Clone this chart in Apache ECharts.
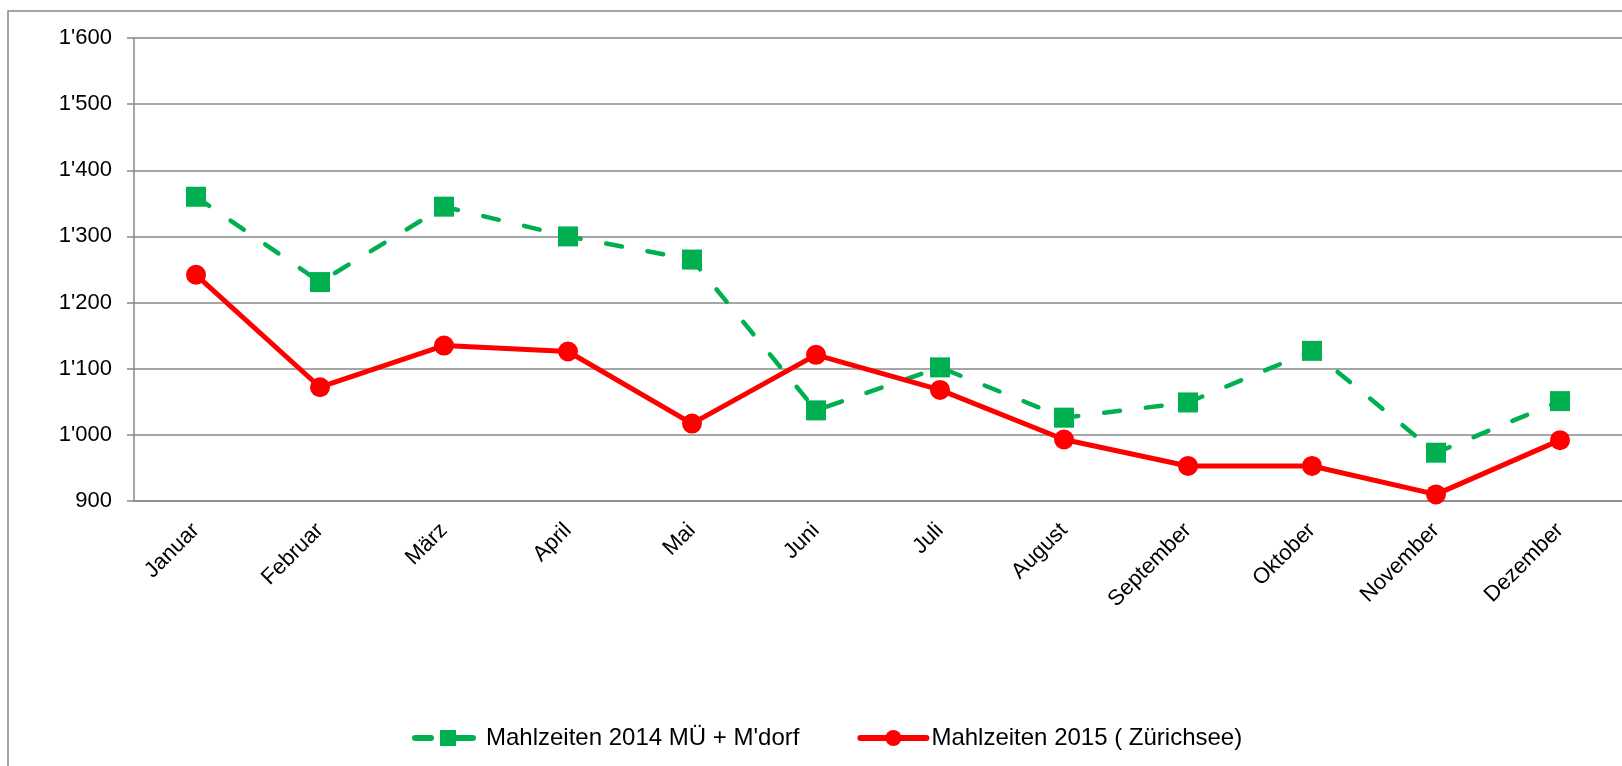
<!DOCTYPE html>
<html style="height: 100%">
<head>
    <meta charset="utf-8">
    <style>
        html, body { margin: 0; padding: 0; background: #fff; }
        #container { width: 1622px; height: 766px; }
    </style>
</head>
<body>
<div id="container"></div>
<script src="https://cdn.jsdelivr.net/npm/echarts@6/dist/echarts.min.js"></script>
<script type="text/javascript">
    // Monate
    var months = ['Januar', 'Februar', 'März', 'April', 'Mai', 'Juni', 'Juli', 'August',
        'September', 'Oktober', 'November', 'Dezember'];
    // Mahlzeiten 2014 MÜ + M'dorf
    var meals2014 = [1360, 1231, 1345, 1300, 1265, 1037, 1102, 1026, 1049, 1127, 973, 1051];
    // Mahlzeiten 2015 ( Zürichsee)
    var meals2015 = [1242, 1072, 1135, 1126, 1017, 1121, 1068, 993, 953, 953, 910, 992];
    var seriesNames = ["Mahlzeiten 2014 MÜ + M'dorf", 'Mahlzeiten 2015 ( Zürichsee)'];
    var yMin = 900, yMax = 1600, yStep = 100;

    function swissNumber(v) {
        if (v < 1000) return String(v);
        var rest = String(v % 1000);
        while (rest.length < 3) rest = '0' + rest;
        return Math.floor(v / 1000) + "'" + rest;
    }

    var gray = '#888888';
    var myChart = echarts.init(document.getElementById('container'));
    var option = {
        animation: false,
        textStyle: { fontFamily: 'Liberation Sans, Arial, sans-serif' },
        graphic: [{
            type: 'rect',
            shape: { x: 8, y: 11, width: 1700, height: 800 },
            style: { fill: 'none', stroke: gray, lineWidth: 1.5 },
            silent: true
        }],
        grid: { left: 134, top: 38, width: 1505, height: 463 },
        legend: {
            data: seriesNames,
            left: 407,
            top: 721,
            itemWidth: 66,
            itemHeight: 20,
            itemGap: 58,
            lineStyle: { width: 6, cap: 'round' },
            textStyle: { fontSize: 24, color: '#000' }
        },
        xAxis: {
            type: 'category',
            data: months,
            axisLine: { lineStyle: { color: gray, width: 1.5 } },
            axisTick: { length: 6, lineStyle: { color: gray, width: 1.5 } },
            axisLabel: { rotate: 45, fontSize: 22, color: '#000', margin: 26, interval: 0 }
        },
        yAxis: {
            type: 'value',
            min: yMin,
            max: yMax,
            interval: yStep,
            axisLine: { show: true, lineStyle: { color: gray, width: 1.5 } },
            axisTick: { show: true, length: 7, lineStyle: { color: gray, width: 1.5 } },
            splitLine: { lineStyle: { color: gray, width: 1.5 } },
            axisLabel: { fontSize: 22, color: '#000', margin: 22, formatter: swissNumber }
        },
        series: [
            {
                name: seriesNames[0],
                type: 'line',
                data: meals2014,
                symbol: 'rect',
                symbolSize: 20,
                itemStyle: { color: '#00B050' },
                lineStyle: { color: '#00B050', width: 4.5, type: [16, 26], cap: 'round' }
            },
            {
                name: seriesNames[1],
                type: 'line',
                data: meals2015,
                symbol: 'circle',
                symbolSize: 20,
                itemStyle: { color: '#FF0000' },
                lineStyle: { color: '#FF0000', width: 5 }
            }
        ]
    };
    myChart.setOption(option);
</script>
</body>
</html>
